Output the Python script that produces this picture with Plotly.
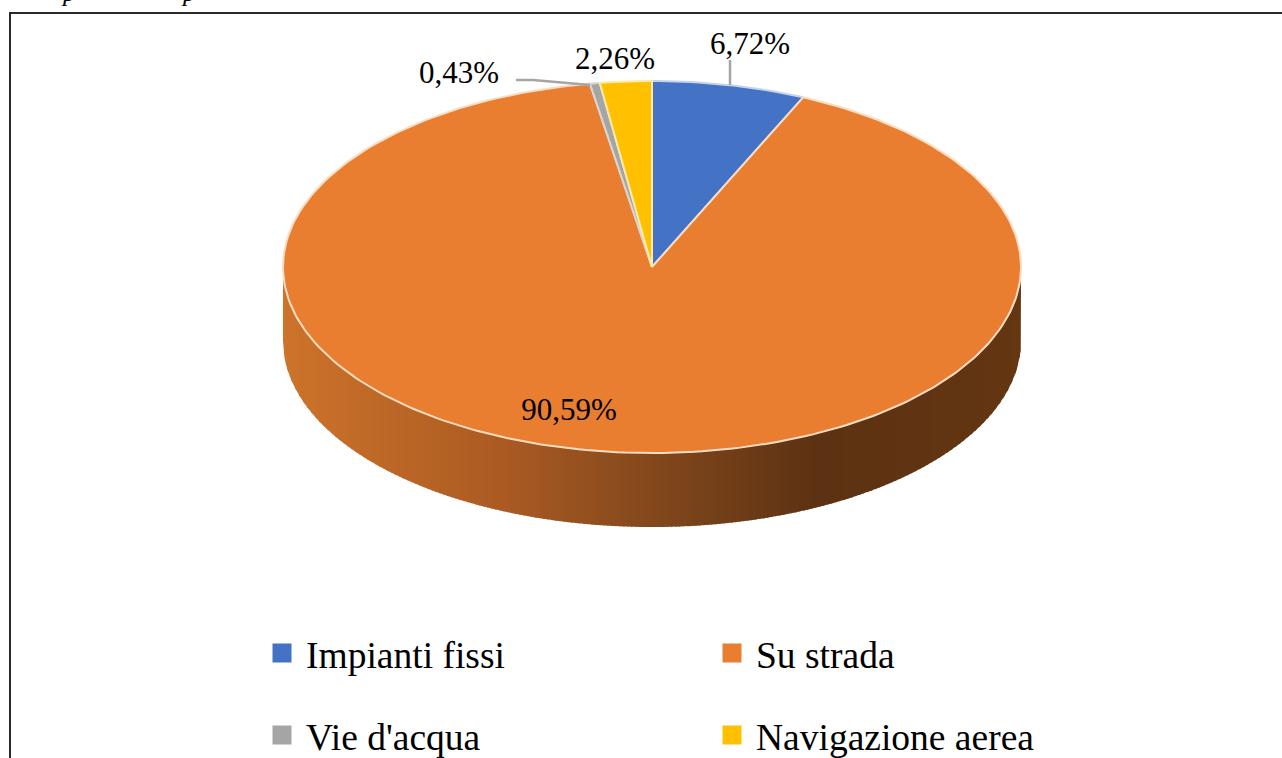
import plotly.graph_objects as go
import math

# ---- data ----
categories = ["Impianti fissi", "Su strada", "Vie d'acqua", "Navigazione aerea"]
values = [6.72, 90.59, 0.43, 2.26]
colors = ["#4472C4", "#E97D30", "#A5A5A5", "#FFC000"]
edge_colors = ["#C5D3EC", "#FBDDC3", "#D5D5D5", "#FFE9A8"]

# ---- drawing geometry (picture pixels) ----
W, H = 1282, 758
CX, CY, RX, RY, DEPTH = 652, 267, 369, 186, 74
FONT = "Liberation Serif"

fig = go.Figure()


def top_point(deg, r=1.0):
    a = math.radians(deg)
    return CX + RX * r * math.sin(a), CY - RY * r * math.cos(a)


def rim_y(x):
    u = max(-1.0, min(1.0, (x - CX) / RX))
    return CY + RY * math.sqrt(1 - u * u)


# side wall: thin vertical strips under the front rim, shaded left to right
wall_stops = [(0.0, (205, 115, 42)), (0.3, (170, 90, 34)), (0.5, (130, 72, 28)),
              (0.72, (92, 50, 18)), (1.0, (100, 54, 18))]


def wall_color(t):
    for (t0, c0), (t1, c1) in zip(wall_stops, wall_stops[1:]):
        if t <= t1:
            f = (t - t0) / (t1 - t0)
            return "rgb(%d,%d,%d)" % tuple(round(a + (b - a) * f) for a, b in zip(c0, c1))
    return "rgb(%d,%d,%d)" % wall_stops[-1][1]


STRIP = 4
left, right = CX - RX, CX + RX
xpos = left
while xpos < right:
    xe = min(xpos + STRIP + 1.5, right)
    xs = [xpos + (xe - xpos) * k / 4 for k in range(5)]
    ys_top = [rim_y(x) - 3 for x in xs]
    ys_bot = [rim_y(x) + DEPTH for x in xs]
    if xpos == left:
        ys_top[0] = CY
    if xe == right:
        ys_top[-1] = CY
    col = wall_color((xpos - left) / (2 * RX))
    fig.add_trace(go.Scatter(
        x=xs + xs[::-1] + [xs[0]], y=ys_top + ys_bot[::-1] + [ys_top[0]],
        mode="lines", fill="toself", fillcolor=col, line=dict(width=0, color=col),
        hoverinfo="skip", showlegend=False))
    xpos += STRIP

# top face slices, starting at twelve o'clock and running clockwise
start = 0.0
for name, val, col, edge in zip(categories, values, colors, edge_colors):
    end = start + val * 3.6
    steps = max(3, int(val * 3))
    pts = [top_point(start + (end - start) * k / steps) for k in range(steps + 1)]
    xs = [CX] + [p[0] for p in pts] + [CX]
    ys = [CY] + [p[1] for p in pts] + [CY]
    fig.add_trace(go.Scatter(
        x=xs, y=ys, mode="lines", fill="toself", fillcolor=col,
        line=dict(width=2, color=edge), name=name, hoverinfo="name", showlegend=False))
    start = end

# leader lines
leader = "#A5A5A5"
fig.add_trace(go.Scatter(x=[730, 730], y=[60, 85], mode="lines",
                         line=dict(color=leader, width=2.5), hoverinfo="skip", showlegend=False))
fig.add_trace(go.Scatter(x=[516, 533, 590], y=[80, 80, 85], mode="lines",
                         line=dict(color=leader, width=2.5), hoverinfo="skip", showlegend=False))

# data labels
label_x = [750, 569, 459, 615]
label_y = [46, 412, 75, 61]
fig.add_trace(go.Scatter(
    x=label_x, y=label_y, mode="text",
    text=[f"{v:.2f}".replace(".", ",") + "%" for v in values],
    textposition="middle center",
    textfont=dict(family=FONT, size=31, color="#000000"),
    hoverinfo="skip", showlegend=False))

# legends: two rows, two entries each
for i, (name, col) in enumerate(zip(categories, colors)):
    fig.add_trace(go.Scatter(
        x=[None], y=[None], mode="markers", name=name,
        marker=dict(symbol="square", size=16, color=col, line=dict(width=3, color=col)),
        legend="legend" if i < 2 else "legend2"))

legend_common = dict(
    orientation="h", entrywidth=397, entrywidthmode="pixels", itemwidth=38,
    font=dict(family=FONT, size=37.5, color="#000000"),
    bgcolor="rgba(0,0,0,0)", xanchor="left", yanchor="middle", traceorder="normal",
    x=258 / W,
)

# descenders of the cropped caption line at the very top of the picture
caption_bits = [dict(text="<i>p</i>", x=px / W, y=1 + 8 / H, xref="paper", yref="paper",
                     showarrow=False, yanchor="middle",
                     font=dict(family=FONT, size=26, color="#000000"))
                for px in (59, 179)]

fig.update_layout(
    width=W, height=H, margin=dict(l=0, r=0, t=0, b=0, pad=0, autoexpand=False),
    paper_bgcolor="#FFFFFF", plot_bgcolor="#FFFFFF",
    xaxis=dict(range=[0, W], visible=False, fixedrange=True),
    yaxis=dict(range=[H, 0], visible=False, fixedrange=True),
    legend=dict(y=1 - 653 / H, **legend_common),
    legend2=dict(y=1 - 735 / H, **legend_common),
    annotations=caption_bits,
    shapes=[dict(type="rect", xref="x", yref="y", x0=10, x1=1300, y0=13, y1=800,
                 line=dict(color="#2A2A2A", width=2), layer="below")],
)

fig.write_html("out.html", config=dict(displayModeBar=False),
               post_script="document.body.style.margin='0';document.documentElement.style.overflow='hidden';")
